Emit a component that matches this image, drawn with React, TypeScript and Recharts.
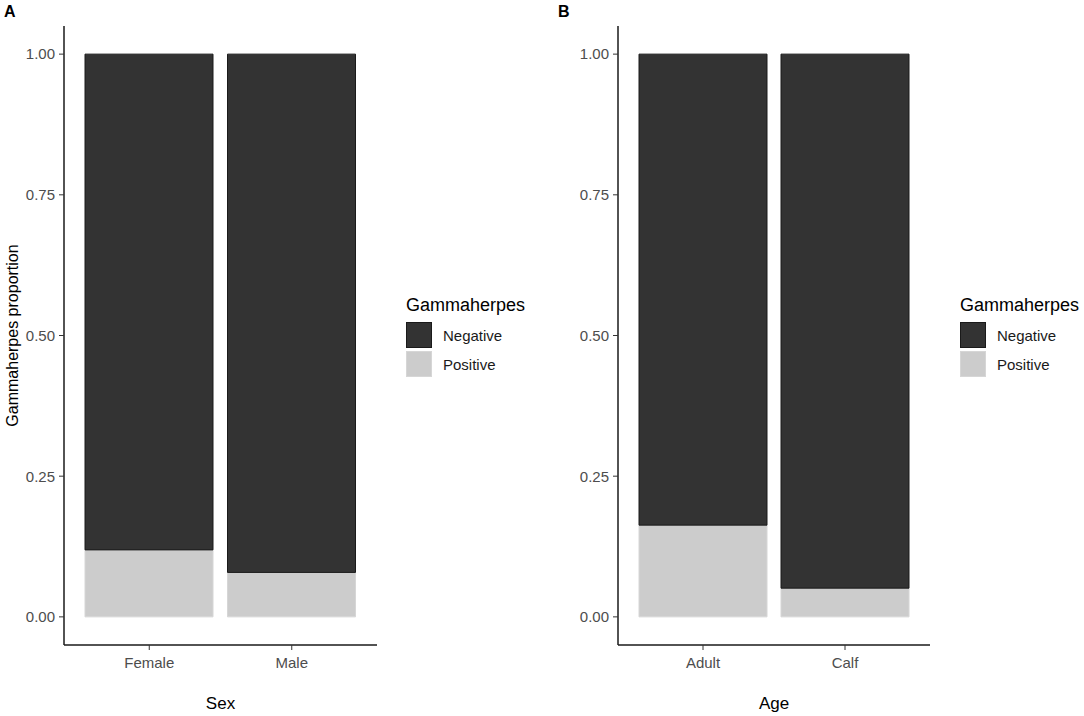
import React from "react";
import { Bar, BarChart, Legend, XAxis, YAxis } from "recharts";

const FONT = '"Liberation Sans", Arial, Helvetica, sans-serif';

const sexCategories = ["Female", "Male"];
const sexPositive = [0.119, 0.079];
const sexNegative = [0.881, 0.921];

const ageCategories = ["Adult", "Calf"];
const agePositive = [0.163, 0.051];
const ageNegative = [0.837, 0.949];

const yTicks = [0, 0.25, 0.5, 0.75, 1];
const legendTitle = "Gammaherpes";
const legendItems = [
  { label: "Negative", fill: "#333333", border: "#1a1a1a" },
  { label: "Positive", fill: "#cccccc", border: "#d6d6d6" }
];

type Row = { name: string; positive: number; negative: number };

function buildRows(cats: string[], pos: number[], neg: number[]): Row[] {
  return cats.map((name, i) => ({ name, positive: pos[i], negative: neg[i] }));
}

function GammaLegend() {
  return (
    <div style={{ fontFamily: FONT, color: "#000", textAlign: "left" }}>
      <div style={{ fontSize: 18, lineHeight: "22px", marginBottom: 6 }}>{legendTitle}</div>
      {legendItems.map((item) => (
        <div
          key={item.label}
          style={{ display: "flex", alignItems: "center", height: 26, marginBottom: 3 }}
        >
          <span
            style={{
              display: "inline-block",
              width: 26,
              height: 26,
              boxSizing: "border-box",
              background: item.fill,
              border: `1px solid ${item.border}`
            }}
          />
          <span style={{ marginLeft: 11, fontSize: 15, color: "#1a1a1a" }}>{item.label}</span>
        </div>
      ))}
    </div>
  );
}

function Panel({
  data,
  xTitle,
  showYTitle,
  rightMargin
}: {
  data: Row[];
  xTitle: string;
  showYTitle: boolean;
  rightMargin: number;
}) {
  const tickStyle = { fill: "#4d4d4d", fontSize: 15, fontFamily: FONT };
  return (
    <BarChart
      width={545}
      height={716}
      data={data}
      margin={{ top: 26, right: rightMargin, bottom: 0, left: 0 }}
      barSize={128}
    >
      <XAxis
        dataKey="name"
        height={71}
        padding={{ left: 14, right: 14 }}
        tick={tickStyle}
        tickSize={5}
        tickMargin={7}
        axisLine={{ stroke: "#1a1a1a", strokeWidth: 1.5 }}
        tickLine={{ stroke: "#333333" }}
        label={{
          value: xTitle,
          position: "insideBottom",
          offset: 7,
          style: { fill: "#000", fontSize: 17, fontFamily: FONT }
        }}
      />
      <YAxis
        width={64}
        type="number"
        domain={[-0.05, 1.05]}
        ticks={yTicks}
        tickFormatter={(v: number) => v.toFixed(2)}
        tick={tickStyle}
        tickSize={5}
        tickMargin={4}
        axisLine={{ stroke: "#1a1a1a", strokeWidth: 1.5 }}
        tickLine={{ stroke: "#333333" }}
        label={
          showYTitle
            ? {
                value: "Gammaherpes proportion",
                angle: -90,
                position: "insideLeft",
                offset: 12,
                style: { fill: "#000", fontSize: 16, fontFamily: FONT, textAnchor: "middle" }
              }
            : undefined
        }
      />
      <Legend
        layout="horizontal"
        align="center"
        verticalAlign="middle"
        content={() => <GammaLegend />}
        wrapperStyle={{ left: 406, top: 294, width: 140, height: 90 }}
      />
      <Bar
        dataKey="positive"
        stackId="s"
        fill="#cccccc"
        stroke="#d6d6d6"
        strokeWidth={1}
        isAnimationActive={false}
      />
      <Bar
        dataKey="negative"
        stackId="s"
        fill="#333333"
        stroke="#1a1a1a"
        strokeWidth={1}
        isAnimationActive={false}
      />
    </BarChart>
  );
}

export default function App() {
  const sexRows = buildRows(sexCategories, sexPositive, sexNegative);
  const ageRows = buildRows(ageCategories, agePositive, ageNegative);
  const letterStyle: React.CSSProperties = {
    position: "absolute",
    top: 3,
    fontFamily: FONT,
    fontWeight: "bold",
    fontSize: 16,
    color: "#000"
  };
  return (
    <div
      style={{
        position: "absolute",
        left: 0,
        top: 0,
        width: 1084,
        height: 716,
        background: "#fff",
        overflow: "hidden"
      }}
    >
      <div style={{ ...letterStyle, left: 4 }}>A</div>
      <div style={{ ...letterStyle, left: 558 }}>B</div>
      <div style={{ position: "absolute", left: 0, top: 0 }}>
        <Panel data={sexRows} xTitle="Sex" showYTitle rightMargin={168} />
      </div>
      <div style={{ position: "absolute", left: 554, top: 0 }}>
        <Panel data={ageRows} xTitle="Age" showYTitle={false} rightMargin={169} />
      </div>
    </div>
  );
}
